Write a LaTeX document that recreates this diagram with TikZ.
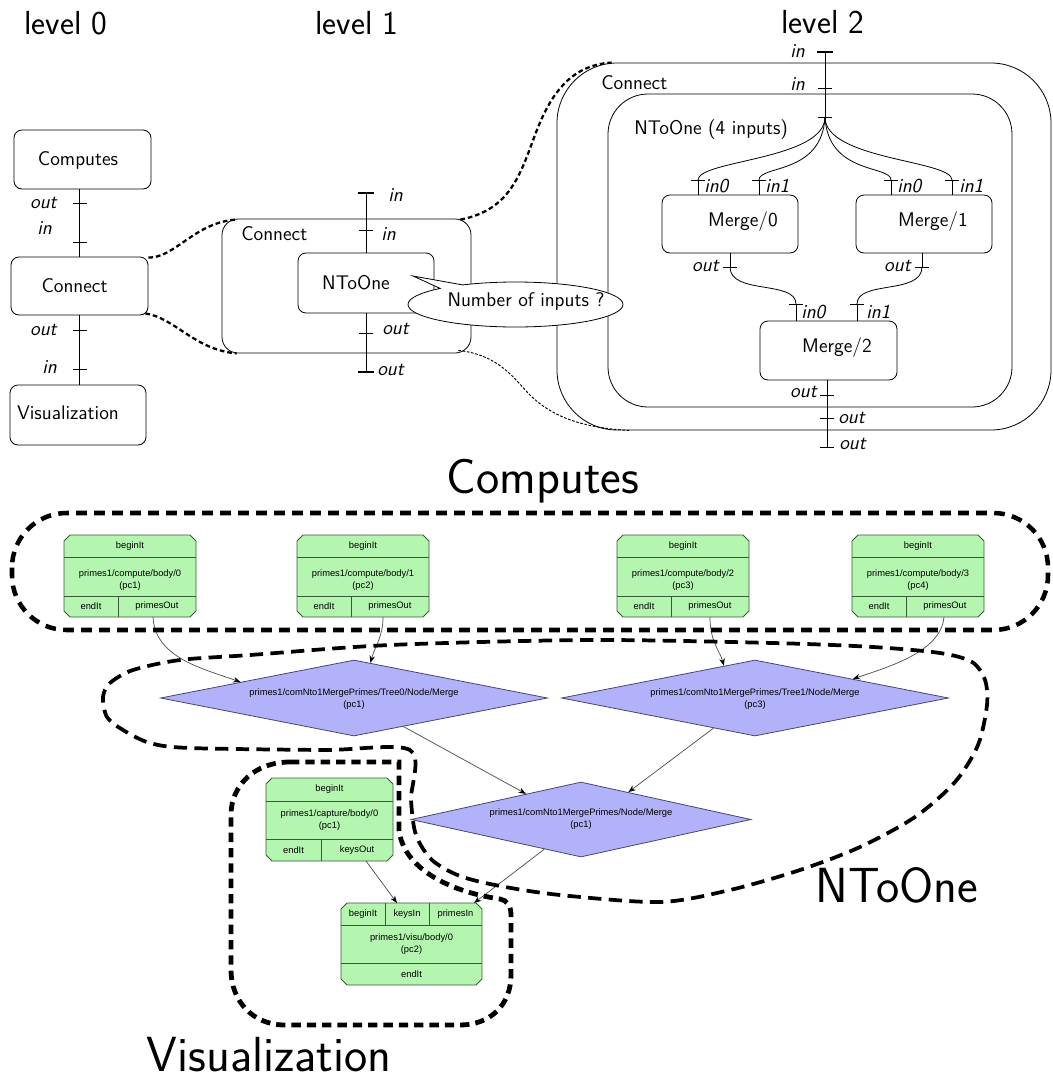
\documentclass[tikz,border=0pt]{standalone}
\usepackage{fontspec}
\newfontfamily\gvfont{Liberation Sans}
\usetikzlibrary{shapes.geometric,shapes.callouts,arrows.meta,calc}
\definecolor{gfill}{RGB}{180,246,176}
\definecolor{gline}{RGB}{55,90,55}
\definecolor{dfill}{RGB}{178,178,250}
\definecolor{dline}{RGB}{70,70,110}
\definecolor{aline}{RGB}{80,80,80}
\newcommand\gvoct[4]{\filldraw[gbox] ({#1+6},#2) -- ({#3-6},#2) -- (#3,{#2+6}) -- (#3,{#4-6}) -- ({#3-6},#4) -- ({#1+6},#4) -- (#1,{#4-6}) -- (#1,{#2+6}) -- cycle;}
\newcommand\tkthin[1]{\draw[tkt] ($(#1)+(-7,0)$) -- ($(#1)+(7,0)$);}
\newcommand\tkbold[1]{\draw[tkb] ($(#1)+(-8,0)$) -- ($(#1)+(8,0)$);}
\begin{document}
\begin{tikzpicture}[x=0.75pt,y=-0.75pt,
  box/.style={draw, line width=0.6pt, rounded corners=6pt, inner sep=0pt},
  lab/.style={font=\sffamily\fontsize{14.8}{17}\selectfont, inner sep=0pt},
  plab/.style={font=\sffamily\itshape\fontsize{14.8}{17}\selectfont, inner sep=0pt},
  lvl/.style={font=\sffamily\fontsize{25}{28}\selectfont, inner sep=0pt},
  big/.style={font=\sffamily\fontsize{37}{40}\selectfont, inner sep=0pt},
  wire/.style={line width=0.6pt},
  tkt/.style={line width=0.6pt},
  tkb/.style={line width=1.8pt},
  dcon/.style={line width=1.7pt, dash pattern=on 3.5pt off 2.2pt},
  dthin/.style={line width=0.7pt, dash pattern=on 2pt off 1.2pt},
  gbox/.style={fill=gfill, draw=gline, line width=0.6pt},
  gsep/.style={draw=gline, line width=0.6pt},
  gv/.style={font=\gvfont\fontsize{7}{9}\selectfont, inner sep=0pt, align=center},
  dia/.style={diamond, draw=dline, fill=dfill, line width=0.6pt, inner sep=0pt},
  arr/.style={draw=aline, line width=0.55pt, -{Stealth[length=5.5pt,width=4.2pt,color=black]}},
  regc/.style={line width=3.4pt, dash pattern=on 8pt off 5.5pt},
  regn/.style={line width=2.8pt, dash pattern=on 10pt off 5.5pt},
  regv/.style={line width=3.6pt, dash pattern=on 7pt off 4.5pt}]
\useasboundingbox (0,0) rectangle (1053,1082);

% ---------- level titles
\node[lvl] (lv0) at (66,23) {level 0};
\node[lvl] (lv1) at (357,23) {level 1};
\node[lvl] (lv2) at (823,22) {level 2};

% ---------- level 0
\node[box, minimum width=102.75pt, minimum height=44.25pt] (l0comp) at (82.5,159.5) {};
\node[lab] (l0compt) at (78,160) {Computes};
\node[box, minimum width=102.75pt, minimum height=43.5pt] (l0conn) at (79.5,286) {};
\node[lab] (l0connt) at (74.5,286) {Connect};
\node[box, minimum width=102pt, minimum height=45pt] (l0vis) at (78,415) {};
\node[lab] (l0vist) at (68,413) {Visualization};
\draw[wire] (l0conn.north |- l0comp.south) -- (l0conn.north);
\draw[wire] (l0conn.south) -- (l0conn.south |- l0vis.north);
\coordinate (k1) at (79.5,203);
\coordinate (k2) at (79.5,242);
\coordinate (k3) at (79.5,330);
\coordinate (k4) at (79.5,369);
\tkthin{k1} \tkthin{k2} \tkthin{k3} \tkthin{k4}
\node[plab, anchor=east] (k1l) at (57,203) {out};
\node[plab, anchor=east] (k2l) at (52,228) {in};
\node[plab, anchor=east] (k3l) at (57,330) {out};
\node[plab, anchor=east] (k4l) at (57,367) {in};

% ---------- level 1
\node[box, rounded corners=12pt, minimum width=186.75pt, minimum height=100.5pt] (l1conn) at (346.5,286) {};
\node[lab, anchor=west] (l1connt) at (241,234) {Connect};
\node[box, minimum width=102pt, minimum height=45pt] (l1nto) at (366,283) {};
\node[lab] (l1ntot) at (356,283) {NToOne};
\coordinate (l1a) at (366,193);
\coordinate (l1b) at (366,230);
\coordinate (l1c) at (366,333);
\coordinate (l1d) at (366,372);
\draw[wire] (l1a) -- (l1nto.north);
\draw[wire] (l1nto.south) -- (l1d);
\tkbold{l1a} \tkthin{l1b} \tkthin{l1c} \tkbold{l1d}
\node[plab, anchor=west] (l1al) at (388,195) {in};
\node[plab, anchor=west] (l1bl) at (381,234) {in};
\node[plab, anchor=west] (l1cl) at (382,329) {out};
\node[plab, anchor=west] (l1dl) at (377,370) {out};

% ---------- level 2
\node[box, rounded corners=45pt, minimum width=370.5pt, minimum height=275.25pt] (l2conn) at (804,246.5) {};
\node[lab, anchor=west] (l2connt) at (601,83) {Connect};
\node[box, rounded corners=30pt, minimum width=303pt, minimum height=234.75pt] (l2nto) at (810,250.5) {};
\node[lab, anchor=west] (l2ntot) at (634,130) {NToOne (4 inputs)};
\node[box, minimum width=102pt, minimum height=43.5pt] (m0) at (730,224) {};
\node[lab] (m0t) at (743,222) {Merge/0};
\node[box, minimum width=102pt, minimum height=43.5pt] (m1) at (924,224) {};
\node[lab] (m1t) at (933,222) {Merge/1};
\node[box, minimum width=102.75pt, minimum height=44.25pt] (m2) at (828.5,350.5) {};
\node[lab] (m2t) at (837,348) {Merge/2};

\coordinate (l2a) at (825,52);
\coordinate (l2b) at (825,88);
\coordinate (fan) at (825,117);
\draw[wire] (l2a) -- (fan);
\tkbold{l2a} \tkthin{l2b} \tkthin{fan}
\node[plab, anchor=east] (l2al) at (805,51) {in};
\node[plab, anchor=east] (l2bl) at (805,84) {in};

\coordinate (m0a) at (698,180);
\coordinate (m0b) at (759,180);
\coordinate (m1a) at (891,180);
\coordinate (m1b) at (952,180);
\draw[wire] (fan) .. controls +(0,43) and +(0,-20) .. (m0a);
\draw[wire] (fan) .. controls +(-3,58) and +(0,-15) .. (m0b);
\draw[wire] (fan) .. controls +(3,58) and +(0,-15) .. (m1a);
\draw[wire] (fan) .. controls +(0,43) and +(0,-20) .. (m1b);
\draw[wire] (m0a) -- (m0a |- m0.north);
\draw[wire] (m0b) -- (m0b |- m0.north);
\draw[wire] (m1a) -- (m1a |- m1.north);
\draw[wire] (m1b) -- (m1b |- m1.north);
\tkthin{m0a} \tkthin{m0b} \tkthin{m1a} \tkthin{m1b}
\node[plab, anchor=west] (m0al) at (704,186) {in0};
\node[plab, anchor=west] (m0bl) at (765,186) {in1};
\node[plab, anchor=west] (m1al) at (897,186) {in0};
\node[plab, anchor=west] (m1bl) at (959,186) {in1};

\coordinate (m0o) at (730,267);
\coordinate (m1o) at (922,267);
\coordinate (m2a) at (796,304);
\coordinate (m2b) at (857,304);
\draw[wire] (m0o |- m0.south) -- (m0o);
\draw[wire] (m1o |- m1.south) -- (m1o);
\draw[wire] (m0o) .. controls +(0,28) and +(0,-24) .. (m2a);
\draw[wire] (m1o) .. controls +(0,28) and +(0,-24) .. (m2b);
\draw[wire] (m2a) -- (m2a |- m2.north);
\draw[wire] (m2b) -- (m2b |- m2.north);
\tkthin{m0o} \tkthin{m1o} \tkthin{m2a} \tkthin{m2b}
\node[plab, anchor=east] (m0ol) at (719,266) {out};
\node[plab, anchor=east] (m1ol) at (911,266) {out};
\node[plab, anchor=west] (m2al) at (801,312) {in0};
\node[plab, anchor=west] (m2bl) at (866,312) {in1};

\coordinate (m2o) at (827,395);
\coordinate (m2p) at (827,418);
\coordinate (m2q) at (827,447);
\draw[wire] (m2o |- m2.south) -- (m2q);
\tkthin{m2o} \tkthin{m2p} \tkthin{m2q}
\node[plab, anchor=east] (m2ol) at (817,392) {out};
\node[plab, anchor=west] (m2pl) at (838,418) {out};
\node[plab, anchor=west] (m2ql) at (839,444) {out};

% ---------- zoom connectors
\draw[dcon] ($(l0conn.north east)+(0,1)$) .. controls (175,258) and (195,222) .. ($(l1conn.north west)+(15,1)$);
\draw[dcon] ($(l0conn.south east)+(-3,-2)$) .. controls (175,318) and (195,350) .. ($(l1conn.south west)+(15,0)$);
\draw[dcon] ($(l1conn.north east)+(-11,1)$) .. controls (510,210) and (520,175) .. (535,135) .. controls (550,95) and (570,65) .. ($(l2conn.north west)+(55,0)$);
\draw[dthin] ($(l1conn.south east)+(-13,-3)$) .. controls (500,355) and (515,380) .. (530,395) .. controls (550,415) and (580,428) .. ($(l2conn.south west)+(73,0)$);

% ---------- speech bubble
\node[ellipse callout, draw, fill=white, line width=0.6pt, inner sep=0pt,
      minimum width=161.25pt, minimum height=33.75pt,
      callout absolute pointer={(413,276)}] (bub) at (515.5,304.5) {};
\node[lab] (bubt) at (526,301) {Number of inputs ?};

% ---------- bottom: big labels
\node[big] (bigc) at (543,481) {Computes};
\node[big] (bign) at (897,885) {NToOne};
\node[big] (bigv) at (269,1055) {Visualization};

% ---------- compute boxes
\gvoct{64}{535}{196}{617}
\gvoct{297}{535}{429}{617}
\gvoct{617}{535}{749}{617}
\gvoct{852}{535}{984}{617}
\foreach \L in {64,297,617,852}{
  \draw[gsep] (\L,557) -- ({\L+132},557);
  \draw[gsep] (\L,596) -- ({\L+132},596);
  \draw[gsep] ({\L+54},596) -- ({\L+54},617);
}
\node[gv] (c1b) at (130,546) {beginIt};
\node[gv] (c1n) at (130,580) {primes1/compute/body/0\\(pc1)};
\node[gv] (c1e) at (91,606) {endIt};
\node[gv] (c1p) at (157,606) {primesOut};
\node[gv] (c2b) at (363,546) {beginIt};
\node[gv] (c2n) at (363,580) {primes1/compute/body/1\\(pc2)};
\node[gv] (c2e) at (324,606) {endIt};
\node[gv] (c2p) at (390,606) {primesOut};
\node[gv] (c3b) at (683,546) {beginIt};
\node[gv] (c3n) at (683,580) {primes1/compute/body/2\\(pc3)};
\node[gv] (c3e) at (644,606) {endIt};
\node[gv] (c3p) at (710,606) {primesOut};
\node[gv] (c4b) at (918,546) {beginIt};
\node[gv] (c4n) at (918,580) {primes1/compute/body/3\\(pc4)};
\node[gv] (c4e) at (879,606) {endIt};
\node[gv] (c4p) at (945,606) {primesOut};

% ---------- diamonds
\node[dia, minimum width=290.25pt, minimum height=57pt] (t0) at (354,698) {};
\node[gv] (t0t) at (354,699) {primes1/comNto1MergePrimes/Tree0/Node/Merge\\(pc1)};
\node[dia, minimum width=290.25pt, minimum height=57pt] (t1) at (755,698) {};
\node[gv] (t1t) at (755,699) {primes1/comNto1MergePrimes/Tree1/Node/Merge\\(pc3)};
\node[dia, minimum width=255pt, minimum height=56.25pt] (fin) at (581,819.5) {};
\node[gv] (fint) at (581,819) {primes1/comNto1MergePrimes/Node/Merge\\(pc1)};

% ---------- capture and visu boxes
\gvoct{266}{778}{393}{861}
\draw[gsep] (266,801) -- (393,801);
\draw[gsep] (266,839) -- (393,839);
\draw[gsep] (321,839) -- (321,861);
\node[gv] (kb) at (329.5,789.5) {beginIt};
\node[gv] (kn) at (329.5,820) {primes1/capture/body/0\\(pc1)};
\node[gv] (ke) at (293.5,850) {endIt};
\node[gv] (ko) at (357,850) {keysOut};

\gvoct{341}{903}{482}{985}
\draw[gsep] (341,925) -- (482,925);
\draw[gsep] (341,963) -- (482,963);
\draw[gsep] (385,903) -- (385,925);
\draw[gsep] (429,903) -- (429,925);
\node[gv] (vb) at (363,914) {beginIt};
\node[gv] (vki) at (407,914) {keysIn};
\node[gv] (vpi) at (455.5,914) {primesIn};
\node[gv] (vn) at (411.5,944) {primes1/visu/body/0\\(pc2)};
\node[gv] (ve) at (411.5,974) {endIt};

% ---------- graph edges
\coordinate (c1o) at (153,617);
\coordinate (c2o) at (383,617);
\coordinate (c3o) at (710,617);
\coordinate (c4o) at (944,617);
\coordinate (cko) at (366,861);
\coordinate (vk) at (397,903);
\coordinate (vp) at (474,903);
\draw[arr] (c1o) .. controls +(2,40) and +(-40,-14) .. (t0.172);
\draw[arr] (c2o) .. controls +(0,20) and +(5,-18) .. (t0.65);
\draw[arr] (c3o) .. controls +(0,25) and +(-4,-15) .. (t1.134);
\draw[arr] (c4o) .. controls +(-3,35) and +(35,-12) .. (t1.11);
\draw[arr] (t0.-30) -- (fin.155);
\draw[arr] (t1.-144) -- (fin.30);
\draw[arr] (fin.-141) -- (vp);
\draw[arr] (cko) -- (vk);

% ---------- dashed regions
\draw[regc, rounded corners=41pt] (12,513) rectangle (1048,630);
\draw[regn] plot[smooth cycle, tension=0.5] coordinates {
 (103,697) (110,683) (133,670) (180,660) (250,655) (390,645) (590,640)
 (773,643) (873,647) (940,653) (972,662) (985,680) (987,705) (978,745)
 (955,782) (915,817) (860,847) (800,870) (730,890) (660,902) (560,895)
 (500,886) (460,876) (432,860) (416,835) (411,800) (410,750) (323,750)
 (190,748) (150,743) (123,730) (107,717)};
\draw[regv] (290,762) -- (399,762) -- (399,830) .. controls (403,866) and (445,891) .. (500,899)
  .. controls (507,900) and (511,906) .. (511,915) -- (511,975)
  .. controls (511,1005) and (490,1025) .. (460,1025) -- (285,1025)
  .. controls (252,1025) and (231,1000) .. (231,970) -- (231,815)
  .. controls (231,785) and (255,762) .. (290,762) -- cycle;
\end{tikzpicture}
\end{document}
